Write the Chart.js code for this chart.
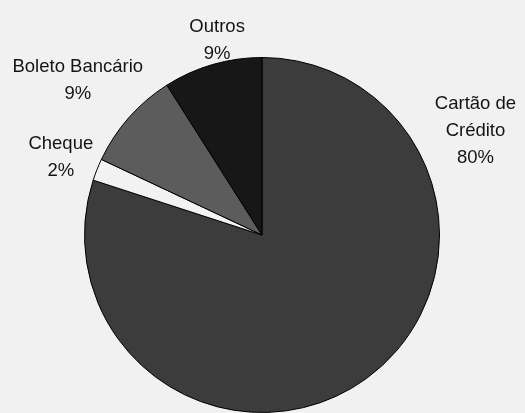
<!DOCTYPE html>
<html>
<head>
<meta charset="utf-8">
<script src="https://cdn.jsdelivr.net/npm/chart.js@4.4.0/dist/chart.umd.min.js"></script>
<style>
  html, body { margin: 0; padding: 0; background: #f1f1f1; }
  #wrap { width: 525px; height: 413px; position: relative; }
</style>
</head>
<body>
<div id="wrap"><canvas id="graphic"></canvas></div>
<script>
const categories = ['Cartão de Crédito', 'Cheque', 'Boleto Bancário', 'Outros'];
const shares = [80, 2, 9, 9];
const labelLines = [['Cartão de', 'Crédito'], ['Cheque'], ['Boleto Bancário'], ['Outros']];

const sliceColors = ['#3c3c3c', '#f2f2f2', '#5c5c5c', '#171717'];
// label placement: angle (deg, clockwise from top) and distance past the rim
const labelAngle = [64, 291, 310, 347];
const labelGap = [60, 38, 63, 22];

const outsideLabels = {
  id: 'outsideLabels',
  afterDatasetsDraw(chart) {
    const { ctx } = chart;
    const meta = chart.getDatasetMeta(0);
    ctx.save();
    ctx.fillStyle = '#141414';
    ctx.font = '18.5px "Liberation Sans", Arial, sans-serif';
    ctx.textAlign = 'center';
    ctx.textBaseline = 'middle';
    meta.data.forEach((arc, i) => {
      const p = arc.getProps(['x', 'y', 'outerRadius'], true);
      const a = (labelAngle[i] - 90) * Math.PI / 180;
      const d = p.outerRadius + labelGap[i];
      const cx = p.x + Math.cos(a) * d;
      const cy = p.y + Math.sin(a) * d;
      const lines = labelLines[i].concat([shares[i] + '%']);
      const lh = 27;
      lines.forEach((t, k) => {
        ctx.fillText(t, cx, cy + (k - (lines.length - 1) / 2) * lh);
      });
    });
    ctx.restore();
  },
};

const ctx = document.querySelector('#graphic').getContext('2d');
const graphic = new Chart(ctx, {
  type: 'pie',
  data: {
    labels: categories,
    datasets: [{
      data: shares,
      backgroundColor: sliceColors,
      borderColor: '#000000',
      borderWidth: 1,
    }],
  },
  options: {
    responsive: true,
    maintainAspectRatio: false,
    animation: false,
    layout: { padding: { top: 57, bottom: 0, left: 84, right: 85 } },
    plugins: {
      legend: { display: false },
      tooltip: { enabled: false },
    },
  },
  plugins: [outsideLabels],
});
graphic.render();
</script>
</body>
</html>
